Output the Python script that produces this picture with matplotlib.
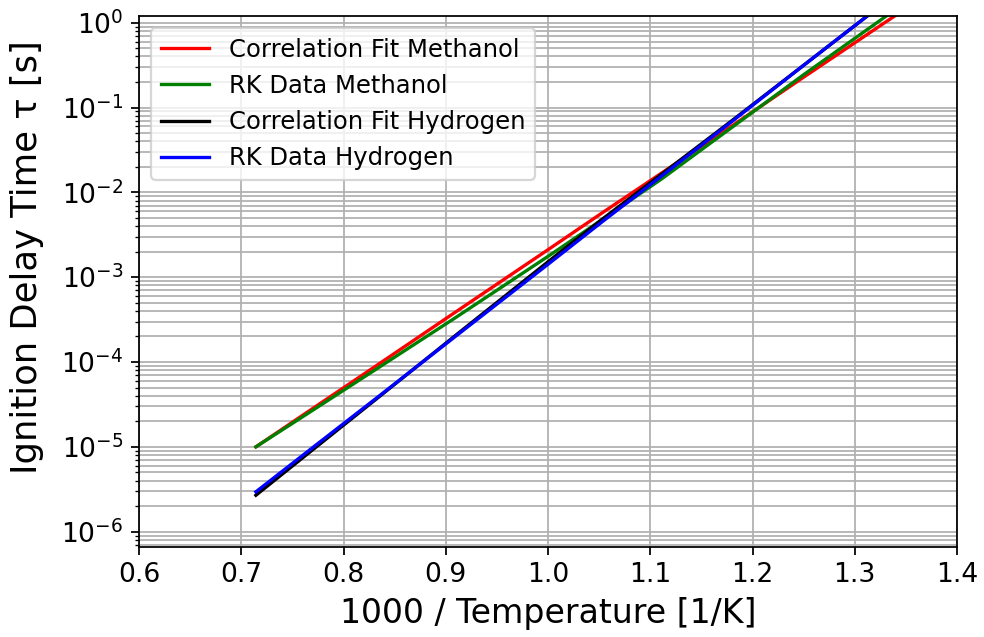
import numpy as np
import matplotlib
matplotlib.use('Agg')
import matplotlib.pyplot as plt

# temperatures the curves were evaluated at [K]
temp = np.array([1400, 1300, 1200, 1100, 1000, 950, 900, 850, 800, 750, 740])
inv_temp = 1000.0 / temp

# ignition delay times [s]
tau_fit_meoh = [1.00e-5, 2.80e-5, 9.27e-5, 3.85e-4, 2.11e-3, 5.70e-3, 1.69e-2, 5.70e-2, 2.28e-1, 1.08, 1.51]
tau_rk_meoh  = [1.00e-5, 2.67e-5, 8.45e-5, 3.31e-4, 1.76e-3, 4.74e-3, 1.44e-2, 5.45e-2, 2.44e-1, 1.26, 1.86]
tau_fit_h2   = [2.69e-6, 9.12e-6, 3.77e-5, 2.04e-4, 1.52e-3, 4.79e-3, 1.64e-2, 6.52e-2, 3.15e-1, 1.89, 2.79]
tau_rk_h2    = [2.95e-6, 9.68e-6, 3.85e-5, 1.99e-4, 1.42e-3, 4.47e-3, 1.56e-2, 6.37e-2, 3.15e-1, 1.89, 2.79]

fig = plt.figure(figsize=(984/159, 637/159), dpi=159)
ax = fig.add_axes([0.1413, 0.1413, 0.8313, 0.8336])

ax.semilogy(inv_temp, tau_fit_meoh, 'r', label='Correlation Fit Methanol')
ax.semilogy(inv_temp, tau_rk_meoh, 'g', label='RK Data Methanol')
ax.semilogy(inv_temp, tau_fit_h2, 'k', label='Correlation Fit Hydrogen')
ax.semilogy(inv_temp, tau_rk_h2, 'b', label='RK Data Hydrogen')

ax.set_xlim(0.6, 1.4)
ax.set_ylim(6.6e-7, 1.2)
ax.grid(which='both')
ax.tick_params(labelsize=12)
ax.set_xlabel('1000 / Temperature [1/K]', fontsize=15)
ax.set_ylabel('Ignition Delay Time τ [s]', fontsize=16)
ax.yaxis.set_label_coords(-0.116, 0.546)
ax.legend(loc='upper left', fontsize=11)

fig.savefig('out.png', dpi=159)
